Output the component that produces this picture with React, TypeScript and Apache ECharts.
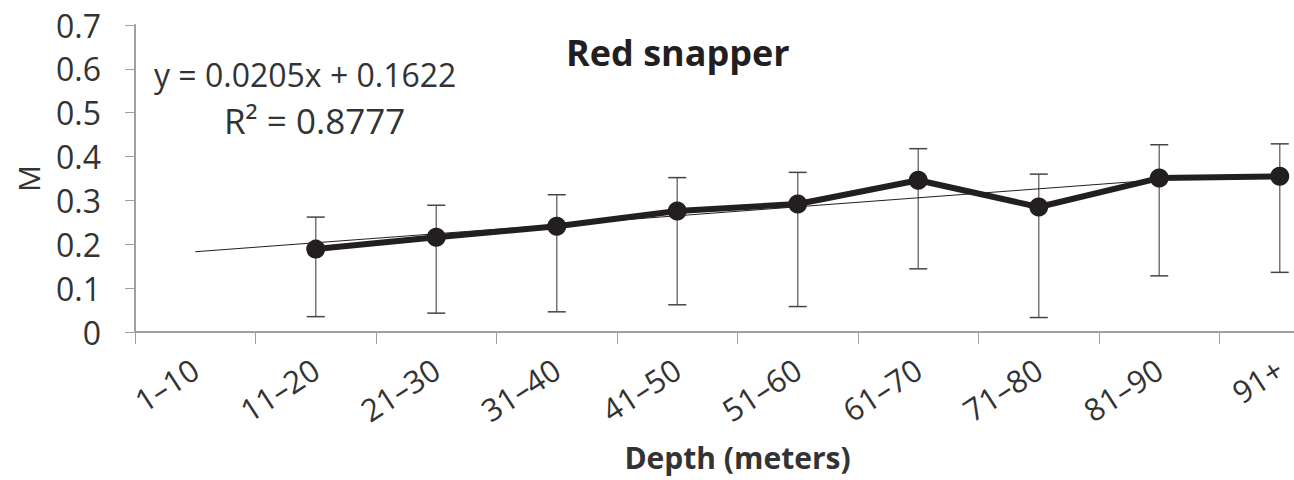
import React, { useEffect, useRef } from "react";
import * as echarts from "echarts";

const categories = ["1–10", "11–20", "21–30", "31–40", "41–50", "51–60", "61–70", "71–80", "81–90", "91+"];
const meanValues = [null, 0.189, 0.216, 0.241, 0.276, 0.292, 0.346, 0.285, 0.351, 0.355];
const lowValues = [null, 0.035, 0.043, 0.046, 0.062, 0.058, 0.144, 0.033, 0.128, 0.136];
const highValues = [null, 0.262, 0.289, 0.313, 0.352, 0.364, 0.418, 0.36, 0.427, 0.429];
const trendCategories = ["1–10", "81–90"];
const trendValues = [0.183, 0.347];
const yTicks = [0, 0.1, 0.2, 0.3, 0.4, 0.5, 0.6, 0.7];

const FONT = "'Open Sans', 'Liberation Sans', sans-serif";

export default function App() {
  const ref = useRef<HTMLDivElement>(null);
  useEffect(() => {
    if (!ref.current) return;
    const chart = echarts.init(ref.current, null, { renderer: "svg" });
    const errData = categories
      .map((c, i) => (lowValues[i] == null ? null : [i, lowValues[i], highValues[i]]))
      .filter((d) => d !== null);
    chart.setOption({
      animation: false,
      backgroundColor: "#ffffff",
      grid: { left: 135, right: 0, top: 25, bottom: 148, containLabel: false, outerBoundsMode: "none" },
      xAxis: {
        type: "category",
        data: categories,
        boundaryGap: true,
        name: "Depth (meters)",
        nameLocation: "middle",
        nameGap: 110,
        nameTextStyle: { fontFamily: FONT, fontSize: 30, fontWeight: "bold", color: "#333" },
        axisLine: { show: true, lineStyle: { color: "#a0a0a0", width: 2 } },
        axisTick: { show: true, interval: 0, length: 12, lineStyle: { color: "#a0a0a0", width: 1 } },
        axisLabel: {
          interval: 0,
          rotate: 33,
          margin: 34,
          fontFamily: FONT,
          fontSize: 31,
          color: "#333",
        },
        splitLine: { show: false },
      },
      yAxis: {
        type: "value",
        min: 0,
        max: 0.7,
        interval: 0.1,
        name: "M",
        nameLocation: "middle",
        nameGap: 92,
        nameRotate: 90,
        nameTextStyle: { fontFamily: FONT, fontSize: 30, color: "#333" },
        axisLine: { show: true, lineStyle: { color: "#a0a0a0", width: 2 } },
        axisTick: { show: true, length: 10, lineStyle: { color: "#a0a0a0", width: 1 } },
        axisLabel: {
          margin: 34,
          fontFamily: FONT,
          fontSize: 32,
          color: "#333",
          formatter: (v: number) => {
            const t = yTicks.find((y) => Math.abs(y - v) < 1e-9);
            return t === 0 ? "0" : v.toFixed(1);
          },
        },
        splitLine: { show: false },
      },
      graphic: [
        {
          type: "text",
          left: 566,
          top: 34,
          style: { text: "Red snapper", fontFamily: FONT, fontSize: 36, fontWeight: "bold", fill: "#231f20" },
        },
        {
          type: "text",
          left: 154,
          top: 58,
          style: { text: "y = 0.0205x + 0.1622", fontFamily: FONT, fontSize: 32, fill: "#333" },
        },
        {
          type: "text",
          left: 224,
          top: 103,
          style: { text: "R² = 0.8777", fontFamily: FONT, fontSize: 35, fill: "#333" },
        },
      ],
      series: [
        {
          type: "custom",
          name: "error",
          data: errData,
          encode: { x: 0, y: [1, 2] },
          z: 1,
          renderItem: (params: any, api: any) => {
            const idx = api.value(0);
            const lo = api.coord([idx, api.value(1)]);
            const hi = api.coord([idx, api.value(2)]);
            const cap = 9;
            const stroke = { stroke: "#444", lineWidth: 1.5 };
            return {
              type: "group",
              children: [
                { type: "line", shape: { x1: hi[0], y1: hi[1], x2: lo[0], y2: lo[1] }, style: { stroke: "#777", lineWidth: 1.5 } },
                { type: "line", shape: { x1: hi[0] - cap, y1: hi[1], x2: hi[0] + cap, y2: hi[1] }, style: stroke },
                { type: "line", shape: { x1: lo[0] - cap, y1: lo[1], x2: lo[0] + cap, y2: lo[1] }, style: stroke },
              ],
            };
          },
        },
        {
          type: "line",
          name: "trend",
          data: trendCategories.map((c, i) => [c, trendValues[i]]),
          symbol: "none",
          z: 2,
          lineStyle: { color: "#231f20", width: 1 },
        },
        {
          type: "line",
          name: "M",
          data: meanValues,
          symbol: "circle",
          symbolSize: 19,
          z: 3,
          connectNulls: false,
          itemStyle: { color: "#231f20" },
          lineStyle: { color: "#231f20", width: 6 },
        },
      ],
    });
    return () => chart.dispose();
  }, []);
  return (
    <div style={{ position: "absolute", left: 0, top: 0, width: 1294, height: 480, overflow: "hidden", background: "#fff" }}>
      <div ref={ref} style={{ width: 1340, height: 480 }} />
    </div>
  );
}
